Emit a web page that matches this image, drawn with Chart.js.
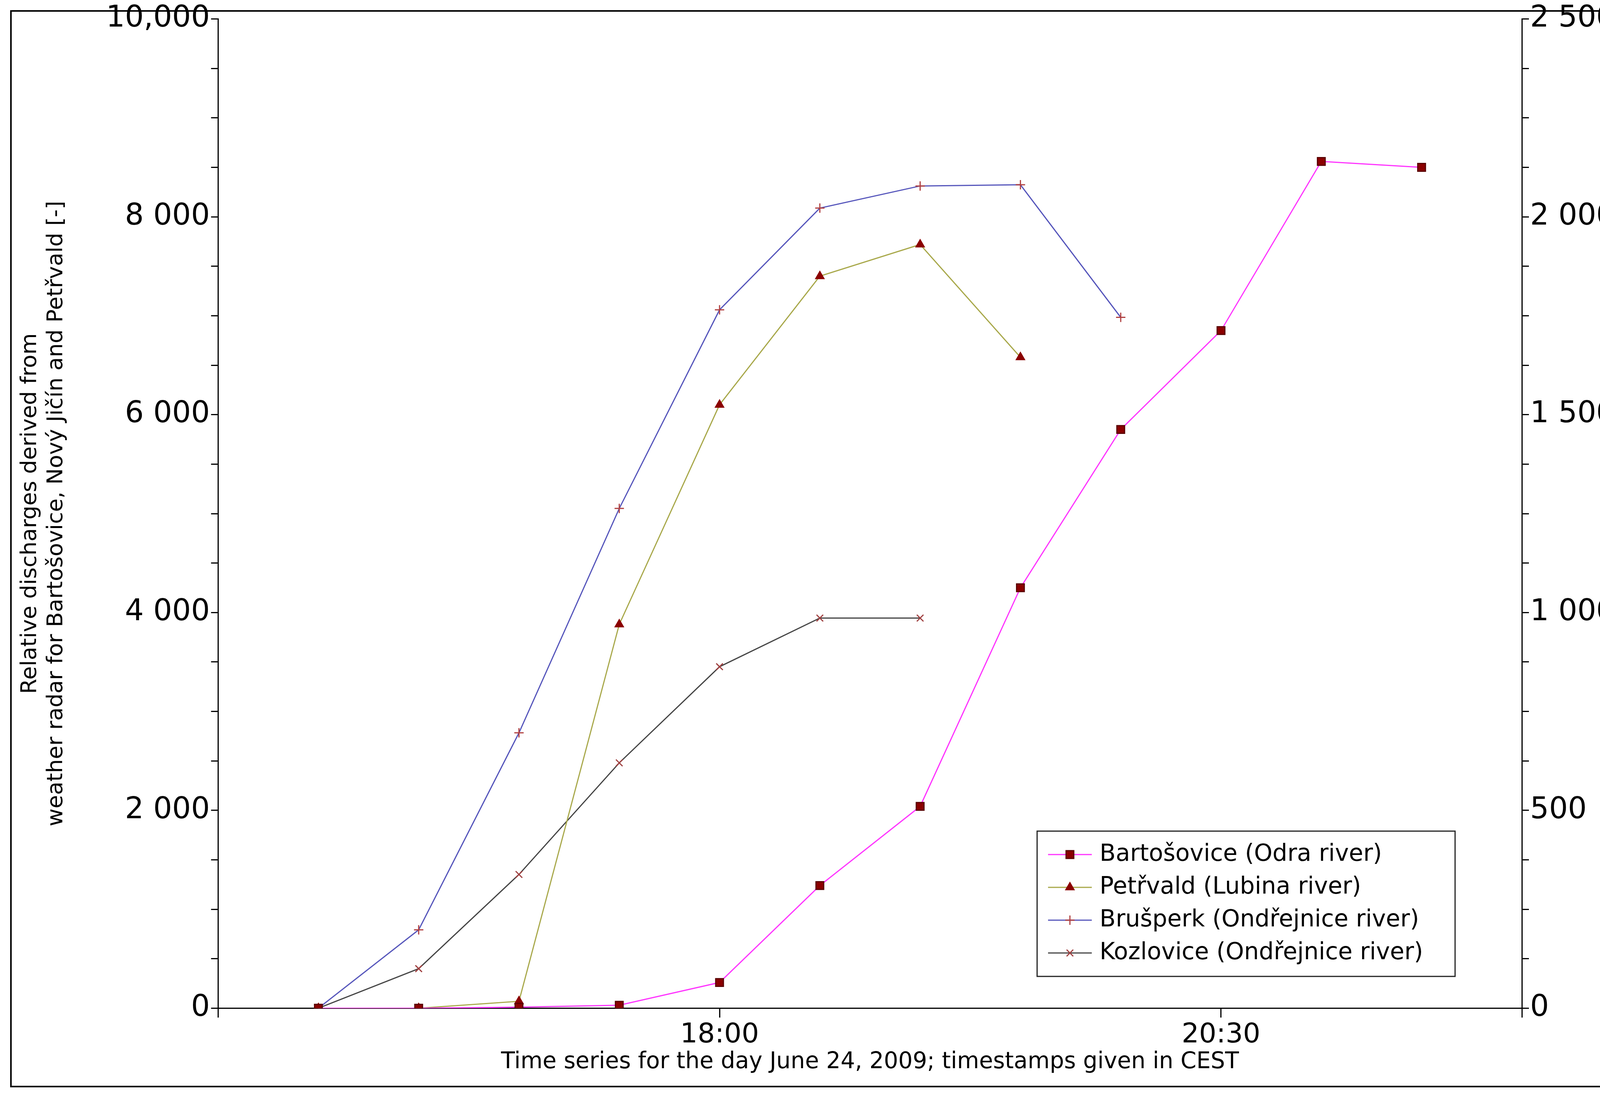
<!DOCTYPE html>
<html><head><meta charset="utf-8">
<script src="https://cdn.jsdelivr.net/npm/chart.js@4"></script>
<style>html,body{margin:0;padding:0;background:#fff;overflow:hidden}canvas{display:block}</style>
</head><body><canvas id="c" width="4376" height="2819" style="width:4376px;height:2819px"></canvas>
<script>
// times in minutes after midnight (16:00 ... 21:30)
const times = [960, 990, 1020, 1050, 1080, 1110, 1140, 1170, 1200, 1230, 1260, 1290];
const bartosovice = [0, 0, 10, 30, 260, 1240, 2040, 4250, 5850, 6850, 8560, 8500];
const petrvald = [0, 0, 70, 3880, 6100, 7400, 7720, 6580];
const brusperk = [0, 198, 696, 1263, 1765, 2022, 2078, 2081, 1746];
const kozlovice = [0, 100, 338, 620, 863, 986, 986];
const xTicks = [930, 1080, 1230, 1320];
const xLabels = {1080: '18:00', 1230: '20:30'};

const pts = (arr) => arr.map((v, i) => ({x: times[i], y: v}));
const F = 'DejaVu Sans';

// outer frame + legend box inside the plot
const extras = {
  id: 'extras',
  afterDraw(chart) {
    const c = chart.ctx;
    c.save();
    c.strokeStyle = '#000'; c.lineWidth = 4;
    c.strokeRect(28, 28, 4317, 2754);
    const bx = 2655, by = 2128, bw = 1070, bh = 372;
    c.fillStyle = '#fff'; c.fillRect(bx, by, bw, bh);
    c.lineWidth = 3; c.strokeStyle = '#222'; c.strokeRect(bx, by, bw, bh);
    c.font = '60px ' + F; c.textBaseline = 'middle';
    chart.data.datasets.forEach((ds, i) => {
      const y = by + 60 + i * 84;
      c.strokeStyle = ds.borderColor; c.lineWidth = 3;
      c.beginPath(); c.moveTo(bx + 28, y); c.lineTo(bx + 140, y); c.stroke();
      c.fillStyle = ds.pointBackgroundColor; c.strokeStyle = ds.pointBorderColor;
      Chart.helpers.drawPoint(c, {pointStyle: ds.pointStyle, radius: ds.pointRadius, borderWidth: 3}, bx + 84, y);
      c.fillStyle = '#000';
      c.fillText(ds.label, bx + 160, y);
    });
    c.restore();
  }
};

new Chart(document.getElementById('c'), {
  type: 'line',
  data: {
    datasets: [
      {label: 'Bartošovice (Odra river)', data: pts(bartosovice), yAxisID: 'y', borderColor: '#ff33ff',
       pointStyle: 'rect', pointRadius: 14, pointBackgroundColor: '#8b0000', pointBorderColor: '#5a0000'},
      {label: 'Petřvald (Lubina river)', data: pts(petrvald), yAxisID: 'y', borderColor: '#a8a84a',
       pointStyle: 'triangle', pointRadius: 12, pointBackgroundColor: '#8b0000', pointBorderColor: '#8b0000'},
      {label: 'Brušperk (Ondřejnice river)', data: pts(brusperk), yAxisID: 'y2', borderColor: '#5555bb',
       pointStyle: 'cross', pointRadius: 12, pointBackgroundColor: '#b04040', pointBorderColor: '#b04040'},
      {label: 'Kozlovice (Ondřejnice river)', data: pts(kozlovice), yAxisID: 'y2', borderColor: '#444444',
       pointStyle: 'crossRot', pointRadius: 12, pointBackgroundColor: '#a04040', pointBorderColor: '#a04040'}
    ].map(d => Object.assign({borderWidth: 3, pointBorderWidth: 3, tension: 0}, d))
  },
  options: {
    responsive: false, animation: false, devicePixelRatio: 1,
    layout: {padding: {left: 40, right: 60, top: 40, bottom: 60}},
    plugins: {legend: {display: false}, tooltip: {enabled: false}},
    scales: {
      x: {
        type: 'linear', min: 930, max: 1320,
        afterBuildTicks: s => { s.ticks = xTicks.map(v => ({value: v})); },
        ticks: {callback: v => xLabels[v] || '', font: {family: F, size: 70}, color: '#000', maxRotation: 0, autoSkip: false},
        grid: {drawOnChartArea: false, tickLength: 24, color: '#000', lineWidth: 3},
        border: {color: '#000', width: 3},
        title: {display: true, text: 'Time series for the day June 24, 2009; timestamps given in CEST',
                font: {family: F, size: 58}, color: '#000', padding: {top: -10}}
      },
      y: {
        position: 'left', min: 0, max: 10000,
        ticks: {stepSize: 500, autoSkip: false, font: {family: F, size: 76}, color: '#000',
          callback: v => v % 2000 === 0 ? (v === 10000 ? '10,000' : v.toLocaleString('en-US').replace(',', ' ')) : ''},
        grid: {drawOnChartArea: false, tickLength: 18, color: '#000', lineWidth: 3},
        border: {color: '#000', width: 3},
        title: {display: true, text: ['Relative discharges derived from', 'weather radar for Bartošovice, Nový Jičín and Petřvald [-]'],
                font: {family: F, size: 56}, color: '#000', padding: {bottom: 90}}
      },
      y2: {
        position: 'right', min: 0, max: 2500,
        ticks: {stepSize: 125, autoSkip: false, font: {family: F, size: 76}, color: '#000',
          callback: v => v % 500 === 0 ? v.toLocaleString('en-US').replace(',', ' ') : ''},
        grid: {drawOnChartArea: false, tickLength: 18, color: '#000', lineWidth: 3},
        border: {color: '#000', width: 3},
        title: {display: true, text: ['Relative discharges derived from', 'weather radar for Brušperk and Kozlovice [-]'],
                font: {family: F, size: 56}, color: '#000', padding: {top: 40}}
      }
    }
  },
  plugins: [extras]
});
</script></body></html>
